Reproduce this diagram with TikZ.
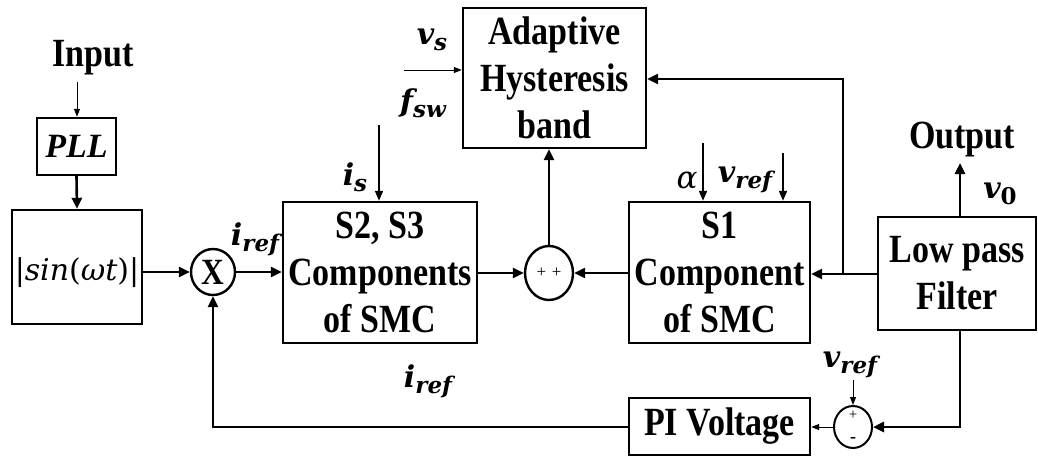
\documentclass[tikz,border=0pt]{standalone}
\usepackage{fontspec}
\setmainfont{Liberation Serif}
\newfontfamily\cf{Liberation Serif}[FakeStretch=0.85]
\newfontfamily\mathf{DejaVu Serif}
\usetikzlibrary{arrows.meta,shapes.geometric}
\newcommand\bigf{\cf\fontsize{40}{47}\selectfont\bfseries}
\newcommand\ml[2]{{\mathf\bfseries\itshape\fontsize{30}{30}\selectfont #1\raisebox{-6pt}{\fontsize{23}{23}\selectfont #2}}}
\begin{document}
\begin{tikzpicture}[x=1pt,y=-1pt,
  box/.style={draw,line width=2.4pt,inner sep=0pt,align=center,font=\bigf},
  txt/.style={inner sep=0pt,font=\bigf},
  lab/.style={inner sep=0pt},
  arr/.style={line width=2.6pt,-{Triangle[length=11pt,width=10pt]}},
  marr/.style={line width=1.8pt,-{Triangle[length=10pt,width=8pt]}},
  tarr/.style={line width=1pt,-{Triangle[length=8pt,width=6pt]}},
  sumnode/.style={draw,ellipse,line width=2.4pt,inner sep=0pt}]
\useasboundingbox (0,0) rectangle (1038,458);
% blocks
\node[txt,anchor=base] (in) at (93,66) {Input};
\node[box,minimum width=79pt,minimum height=57pt,font=\fontsize{34}{34}\selectfont\bfseries\itshape] (pll) at (76.5,146.5) {PLL};
\node[box,minimum width=130pt,minimum height=114pt] (sin) at (77,267) {};
\node[lab,font=\mathf\fontsize{30}{30}\selectfont] (sint) at (77,273) {|\textit{sin}(\textit{ωt})|};
\node[sumnode,minimum width=44pt,minimum height=46pt,font=\cf\fontsize{37}{37}\selectfont\bfseries] (X) at (213,272) {X};
\node[box,minimum width=194pt,minimum height=141pt] (s23) at (380,272.5) {S2, S3\\Components\\of SMC};
\node[sumnode,minimum width=48pt,minimum height=54pt,font=\fontsize{17}{17}\selectfont] (sum) at (549,273) {+\,\,+};
\node[box,minimum width=183pt,minimum height=140pt] (ahb) at (554.5,78) {Adaptive\\Hysteresis\\band};
\node[box,minimum width=181pt,minimum height=141pt] (s1) at (719.5,272.5) {S1\\Component\\of SMC};
\node[box,minimum width=158pt,minimum height=113pt] (lpf) at (957,273.5) {Low pass\\Filter};
\node[txt,anchor=base] (out) at (962,148) {Output};
\node[box,minimum width=181pt,minimum height=57pt] (pi) at (719.5,426.5) {PI Voltage};
\node[sumnode,line width=2pt,minimum width=38pt,minimum height=42pt] (sum2) at (853,427) {};
\node[lab,font=\fontsize{15}{15}\selectfont] (plus2) at (853,415) {+};
\node[lab,font=\fontsize{18}{18}\selectfont\bfseries] (minus2) at (853,440) {-};
% labels
\node[lab] (iref1) at (255,239) {\ml{i}{ref}};
\node[lab] (vs) at (432,40) {\ml{v}{s}};
\node[lab] (fsw) at (423,103) {\ml{f}{sw}};
\node[lab] (is) at (355,177) {\ml{i}{s}};
\node[lab,font=\mathf\fontsize{31}{31}\selectfont\itshape] (alpha) at (687,180) {α};
\node[lab] (vref1) at (745,180) {\ml{v}{ref}};
\node[lab] (v0) at (1000,194) {\ml{v}{\upshape 0}};
\node[lab] (vref2) at (850,365) {\ml{v}{ref}};
\node[lab] (iref2) at (428,381) {\ml{i}{ref}};
% free ends
\coordinate (inS) at (77,82);
\coordinate (vsS) at (404,70);
\coordinate (isS) at (379,125);
\coordinate (alS) at (703,143);
\coordinate (vrS) at (783,153);
\coordinate (outT) at (960,163);
\coordinate (j) at (843,274);
\coordinate (jt) at (843,79);
\coordinate (c1) at (960,427);
\coordinate (c2) at (213,427);
\coordinate (v2S) at (853,380);
% connectors
\draw[tarr] (inS) -- (inS |- pll.north);
\draw[arr] (pll.south) -- (sin.north);
\draw[arr] (sin.east |- X.west) -- (X.west);
\draw[arr] (X.east) -- (s23.west |- X.east);
\draw[arr] (s23.east |- sum.west) -- (sum.west);
\draw[arr] (s1.west |- sum.east) -- (sum.east);
\draw[arr] (sum.north) -- (sum.north |- ahb.south);
\draw[tarr] (vsS) -- (ahb.west |- vsS);
\draw[marr] (isS) -- (isS |- s23.north);
\draw[marr] (alS) -- (alS |- s1.north);
\draw[marr] (vrS) -- (vrS |- s1.north);
\draw[arr] (lpf.west |- j) -- (s1.east |- j);
\draw[arr] (j) -- (jt) -- (ahb.east |- jt);
\draw[arr] (lpf.north -| outT) -- (outT);
\draw[arr] (lpf.south -| c1) -- (c1) -- (sum2.east);
\draw[tarr] (v2S) -- (sum2.north);
\draw[tarr] (sum2.west) -- (pi.east |- sum2.west);
\draw[arr] (pi.west |- c2) -- (c2) -- (X.south);
\end{tikzpicture}
\end{document}
